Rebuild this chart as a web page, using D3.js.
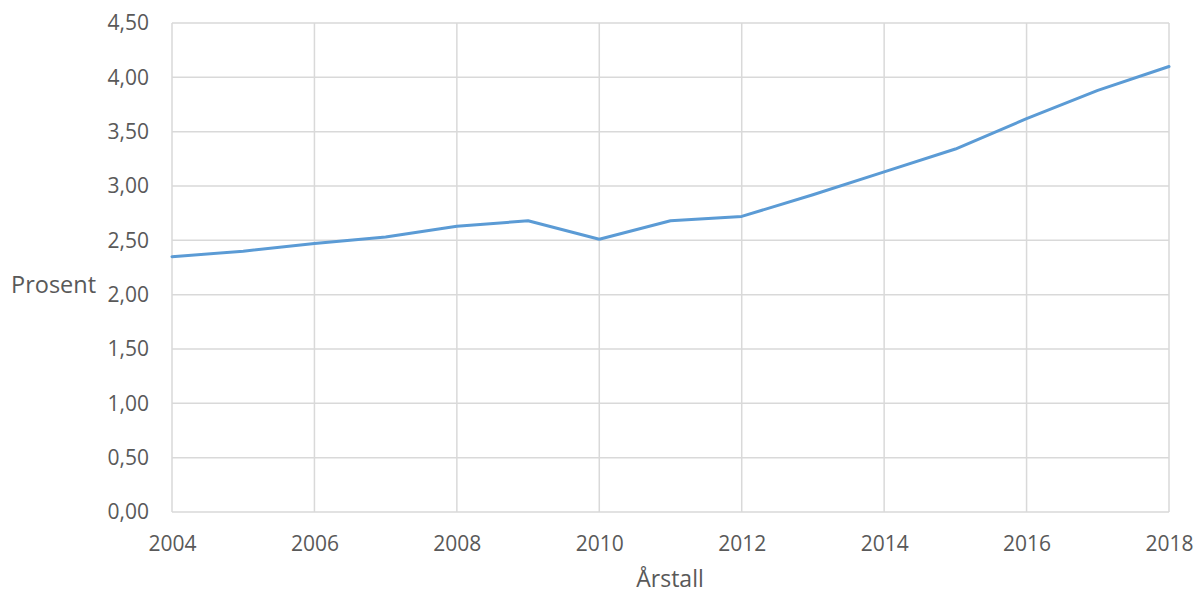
<!DOCTYPE html>
<html>
<head>
<meta charset="utf-8">
<script src="https://cdn.jsdelivr.net/npm/d3@7"></script>
<style>
  html, body { margin: 0; padding: 0; background: #fff; }
  svg text { font-family: "Open Sans", "Noto Sans", sans-serif; fill: #595959; }
</style>
</head>
<body>
<svg id="chart" width="1202" height="595"></svg>
<script>
// Yearly share (prosent)
const years = [2004, 2005, 2006, 2007, 2008, 2009, 2010, 2011, 2012, 2013, 2014, 2015, 2016, 2017, 2018];
const prosent = [2.35, 2.40, 2.47, 2.53, 2.63, 2.68, 2.51, 2.68, 2.72, 2.92, 3.13, 3.34, 3.62, 3.88, 4.10];
const xTicks = [2004, 2006, 2008, 2010, 2012, 2014, 2016, 2018];
const yTicks = [0, 0.5, 1, 1.5, 2, 2.5, 3, 3.5, 4, 4.5];
const xTitle = "Årstall";
const yTitle = "Prosent";

const svg = d3.select("#chart");
const plotLeft = 172, plotRight = 1169, plotTop = 23, plotBottom = 512;

const x = d3.scaleLinear().domain([2004, 2018]).range([plotLeft, plotRight]);
const y = d3.scaleLinear().domain([0, 4.5]).range([plotBottom, plotTop]);
const fmt = v => d3.format(".2f")(v).replace(".", ",");

// Gridlines
const grid = svg.append("g").attr("stroke", "#d9d9d9").attr("stroke-width", 1.5);
grid.selectAll(".h").data(yTicks).join("line").attr("class", "h")
  .attr("x1", plotLeft).attr("x2", plotRight)
  .attr("y1", d => y(d)).attr("y2", d => y(d));
grid.selectAll(".v").data(xTicks).join("line").attr("class", "v")
  .attr("x1", d => x(d)).attr("x2", d => x(d))
  .attr("y1", plotTop).attr("y2", plotBottom);

// Y axis labels
const yAxis = svg.append("g").attr("transform", `translate(${plotLeft},0)`)
  .call(d3.axisLeft(y).tickValues(yTicks).tickFormat(fmt).tickSize(0).tickPadding(23));
yAxis.select(".domain").remove();
yAxis.selectAll("text").attr("font-size", 21).attr("fill", "#595959");

// X axis labels
const xAxis = svg.append("g").attr("transform", `translate(0,${plotBottom})`)
  .call(d3.axisBottom(x).tickValues(xTicks).tickFormat(d3.format("d")).tickSize(0).tickPadding(24));
xAxis.select(".domain").remove();
xAxis.selectAll("text").attr("font-size", 21).attr("fill", "#595959");

// Axis titles
svg.append("text").attr("x", 670).attr("y", 587).attr("text-anchor", "middle")
  .attr("font-size", 23).text(xTitle);
svg.append("text").attr("x", 11).attr("y", 293).attr("text-anchor", "start")
  .attr("font-size", 23.5).text(yTitle);

// Series line
const line = d3.line().x((d, i) => x(years[i])).y(d => y(d));
svg.append("path").datum(prosent)
  .attr("fill", "none").attr("stroke", "#5b9bd5").attr("stroke-width", 3)
  .attr("stroke-linejoin", "round").attr("stroke-linecap", "round")
  .attr("d", line);
</script>
</body>
</html>
